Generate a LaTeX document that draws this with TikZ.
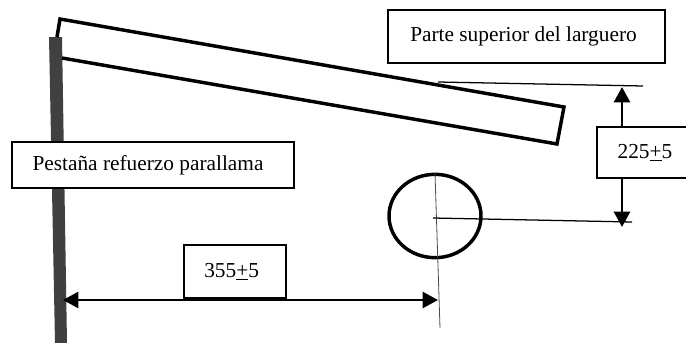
\documentclass[tikz,border=0pt]{standalone}
\usepackage{fontspec}
\setmainfont{Liberation Serif}
\usetikzlibrary{arrows.meta,shapes.geometric}

\tikzset{
    labelbox/.style={draw,fill=white,line width=0.95pt,inner sep=0pt,font=\fontsize{16}{18}\selectfont},
    part/.style={line width=2.6pt},
    refline/.style={line width=0.95pt},
    dimline/.style={line width=1.9pt,-{Triangle[length=11.5pt,width=12pt]}},
}

\begin{document}
\begin{tikzpicture}[x=0.75pt,y=-0.75pt]
    \useasboundingbox (0,0) rectangle (686,343);

    % post
    \fill[fill=black!75] (49,37) -- (62,37) -- (67,343) -- (55,343) -- cycle;

    % beam
    \coordinate (beamA) at (57,37);
    \coordinate (beamB) at (60,19);
    \coordinate (beamC) at (564,107);
    \coordinate (beamD) at (557,144);
    \coordinate (beamE) at (62,58);
    \draw[part,line join=miter] (beamA) -- (beamB) -- (beamC) -- (beamD) -- (beamE);

    % hole
    \node (hole) at (435,216) [draw,part,ellipse,minimum width=69pt,minimum height=62.5pt,inner sep=0pt] {};

    % center lines
    \coordinate (vtop) at (435,173);
    \coordinate (vbot) at (440,328);
    \coordinate (hleft) at (433,218);
    \coordinate (hright) at (632,222);
    \coordinate (ttop) at (438,82);
    \coordinate (tright) at (643,86);
    \draw[line width=0.6pt,black!70] (vtop) -- (vbot);
    \draw[refline] (hleft) -- (hright);
    \draw[refline] (ttop) -- (tright);

    % dimensions
    \coordinate (dimL) at (63,300);
    \coordinate (dimR) at (438,300);
    \coordinate (dimT) at (622,87);
    \coordinate (dimB) at (622,227);
    \coordinate (dimM) at (622,150);
    \coordinate (dimC) at (250,300);
    \draw[dimline] (dimM) -- (dimT);
    \draw[dimline] (dimM) -- (dimB);
    \draw[dimline] (dimC) -- (dimL);
    \draw[dimline] (dimC) -- (dimR);

    % labels
    \node[labelbox,minimum width=207.75pt,minimum height=39.75pt] (top) at (526.5,36.5) {\raisebox{2pt}{Parte superior del larguero}\hspace*{4.5pt}};
    \node[labelbox,minimum width=211.5pt,minimum height=34.5pt] (flange) at (153,165) {Pestaña refuerzo parallama\hspace*{7.5pt}};
    \node[labelbox,minimum width=72pt,minimum height=38.25pt] (vert) at (645,152.5) {225\underline{+}5};
    \node[labelbox,minimum width=76.5pt,minimum height=39.75pt] (horiz) at (235,271.5) {\raisebox{2pt}{355\underline{+}5}\hspace*{5pt}};
\end{tikzpicture}
\end{document}
